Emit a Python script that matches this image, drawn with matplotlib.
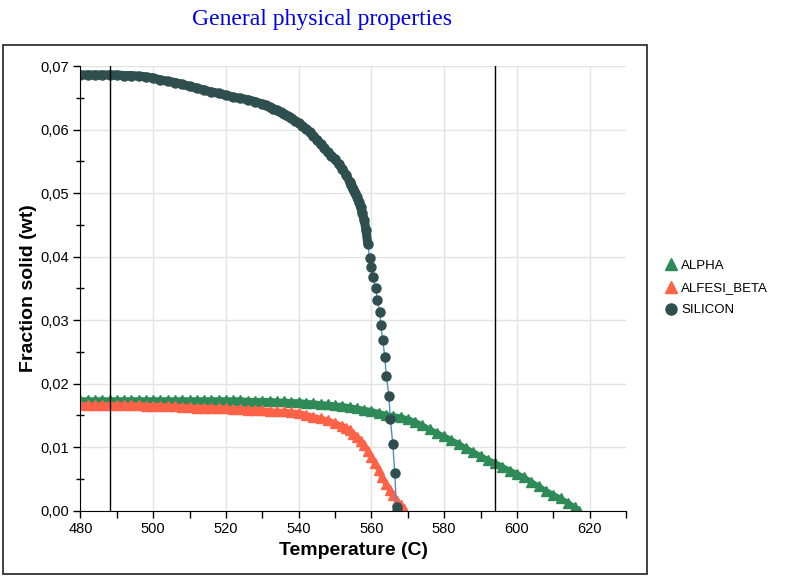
import matplotlib.pyplot as plt
from matplotlib.lines import Line2D
from matplotlib.patches import Rectangle
from matplotlib.ticker import MultipleLocator, FuncFormatter

# values
alpha_t = [480, 482, 484, 486, 488, 490, 492, 494, 496, 498, 500, 502, 504, 506, 508, 510,
           512, 514, 516, 518, 520, 522, 524, 526, 528, 530, 532, 534, 536, 538, 540, 542,
           544, 546, 548, 550, 552, 554, 556, 558, 560, 562, 564, 566, 568, 570, 572, 574,
           576, 578, 580, 582, 584, 586, 588, 590, 592, 594, 596, 598, 600, 602, 604, 606,
           608, 610, 612, 614, 616, 617]
alpha_v = [0.0174, 0.0174, 0.0174, 0.0174, 0.0174, 0.0174, 0.0174, 0.0174, 0.0174, 0.0174,
           0.0174, 0.0174, 0.0174, 0.0174, 0.0174, 0.0174, 0.0174, 0.0174, 0.0174, 0.0174,
           0.0174, 0.0174, 0.0174, 0.0173, 0.0173, 0.0173, 0.0173, 0.0172, 0.0172, 0.0171,
           0.0171, 0.0170, 0.0169, 0.0168, 0.0167, 0.0166, 0.0165, 0.0163, 0.0161, 0.0159,
           0.0157, 0.0154, 0.0151, 0.0149, 0.0147, 0.0144, 0.0140, 0.0134, 0.0128, 0.0122,
           0.0117, 0.0111, 0.0105, 0.0098, 0.0092, 0.0086, 0.0080, 0.0075, 0.0069, 0.0063,
           0.0058, 0.0052, 0.0045, 0.0038, 0.0031, 0.0025, 0.0019, 0.0012, 0.0005, 0.0]

beta_t = [480, 482, 484, 486, 488, 490, 492, 494, 496, 498, 500, 502, 504, 506, 508, 510,
          512, 514, 516, 518, 520, 522, 524, 526, 528, 530, 532, 534, 536, 538, 540, 542,
          544, 546, 548, 550, 552, 553, 554, 555, 556, 557, 558, 559, 560, 561, 562, 563,
          564, 565, 566, 567, 568, 569]
beta_v = [0.0166, 0.0166, 0.0166, 0.0166, 0.0166, 0.0166, 0.0166, 0.0166, 0.0166, 0.0165,
          0.0165, 0.0165, 0.0164, 0.0164, 0.0163, 0.0163, 0.0162, 0.0162, 0.0162, 0.0161,
          0.0161, 0.0160, 0.0160, 0.0159, 0.0159, 0.0158, 0.0157, 0.0156, 0.0156, 0.0155,
          0.0154, 0.0151, 0.0148, 0.0145, 0.0142, 0.0138, 0.0133, 0.0130, 0.0126, 0.0121,
          0.0116, 0.0110, 0.0103, 0.0094, 0.0085, 0.0075, 0.0064, 0.0052, 0.0042, 0.0033,
          0.0024, 0.0015, 0.0008, 0.0002]

si_t = [480, 482, 484, 486, 488, 490, 492, 494, 496, 498, 500, 502, 504, 506, 508, 510,
        512, 514, 516, 518, 520, 522, 524, 526, 528, 530, 531, 532, 533, 534, 535, 536,
        537, 538, 539, 540, 541, 542, 543, 544, 545, 546, 547, 548, 549, 550, 551, 552,
        553, 554, 554.5, 555, 555.5, 556, 556.5, 557, 557.5, 558, 558.5, 559,
        559.5, 560.0, 560.4, 561.2, 561.6, 562.3, 562.6, 563.1, 563.7, 564.1, 564.8,
        565.2, 565.9, 566.4, 566.9, 567.1]
si_v = [0.0686, 0.0686, 0.0686, 0.0686, 0.0686, 0.0686, 0.0685, 0.0685, 0.0684, 0.0683,
        0.0681, 0.0678, 0.0676, 0.0674, 0.0671, 0.0668, 0.0665, 0.0662, 0.0659, 0.0657,
        0.0654, 0.0651, 0.0649, 0.0647, 0.0644, 0.0640, 0.0638, 0.0635, 0.0633, 0.0630,
        0.0627, 0.0624, 0.0621, 0.0618, 0.0614, 0.0610, 0.0606, 0.0601, 0.0596, 0.0590,
        0.0584, 0.0577, 0.0571, 0.0564, 0.0559, 0.0553, 0.0546, 0.0538, 0.0529, 0.0518,
        0.0512, 0.0506, 0.0500, 0.0494, 0.0486, 0.0478, 0.0468, 0.0458, 0.0442, 0.0420,
        0.0398, 0.0383, 0.0368, 0.0350, 0.0332, 0.0312, 0.0292, 0.0268, 0.0241, 0.0212,
        0.0181, 0.0144, 0.0104, 0.0059, 0.0005, 0.0]
si_dense = 60  # points before this are packed so close they read as one band

markers = [488, 594]

green = '#2e8b57'
red = '#ff6347'
dark = '#2f4f4f'

plt.rcParams['font.family'] = 'Liberation Sans'

fig = plt.figure(figsize=(7.89, 5.76), dpi=100)
ax = fig.add_axes([0.102, 0.1137, 0.6914, 0.7717])

# frame round the chart
fig.patches.append(Rectangle((0.004, 0.0035), 0.816, 0.918, transform=fig.transFigure,
                             fill=False, edgecolor='#333333', linewidth=1.3))

ax.plot(alpha_t, alpha_v, '-', color=green, lw=4, solid_capstyle='butt',
        marker='^', ms=6.5, mec=green)
ax.plot(beta_t, beta_v, '-', color=red, lw=4, solid_capstyle='butt',
        marker='^', ms=6.5, mec=red)
ax.plot(si_t, si_v, '-', color='#4f8fd0', lw=1)
ax.plot(si_t[:si_dense], si_v[:si_dense], '-', color=dark, lw=6.5, solid_capstyle='round')
ax.plot(si_t, si_v, linestyle='none', marker='o', ms=6.5, mfc=dark, mec=dark)

for t in markers:
    ax.axvline(t, color='black', lw=1)

ax.set_xlim(480, 630)
ax.set_ylim(0, 0.07)
ax.xaxis.set_major_locator(MultipleLocator(20))
ax.xaxis.set_minor_locator(MultipleLocator(10))
ax.yaxis.set_major_locator(MultipleLocator(0.01))
ax.yaxis.set_minor_locator(MultipleLocator(0.005))
ax.yaxis.set_major_formatter(FuncFormatter(lambda v, p: ('%.2f' % v).replace('.', ',')))
ax.xaxis.set_major_formatter(FuncFormatter(lambda v, p: '%d' % v if v <= 620 else ''))
ax.tick_params(axis='both', which='major', length=5, width=1, labelsize=10.5, direction='out')
ax.tick_params(axis='y', which='minor', length=6, width=1, direction='inout')
ax.tick_params(axis='x', which='minor', length=5, width=1, direction='out')
ax.grid(True, which='major', color='#e3e3e3', lw=1)
ax.set_axisbelow(True)
for s in ['top', 'right']:
    ax.spines[s].set_visible(False)

ax.set_xlabel('Temperature (C)', fontsize=14, fontweight='bold', labelpad=4)
ax.set_ylabel('Fraction solid (wt)', fontsize=14, fontweight='bold', labelpad=2)

fig.text(0.408, 0.966, 'General physical properties', ha='center', va='center',
         color='#0000ee', fontsize=17, family='Liberation Serif')

handles = [Line2D([], [], linestyle='none', marker='^', ms=8, color=green),
           Line2D([], [], linestyle='none', marker='^', ms=8, color=red),
           Line2D([], [], linestyle='none', marker='o', ms=8, color=dark)]
fig.legend(handles, ['ALPHA', 'ALFESI_BETA', 'SILICON'], loc='center left',
           bbox_to_anchor=(0.835, 0.5), frameon=False, fontsize=9.5,
           handlelength=0.8, handletextpad=0.4, labelspacing=0.75, borderpad=0)

fig.savefig('out.png', dpi=100)
